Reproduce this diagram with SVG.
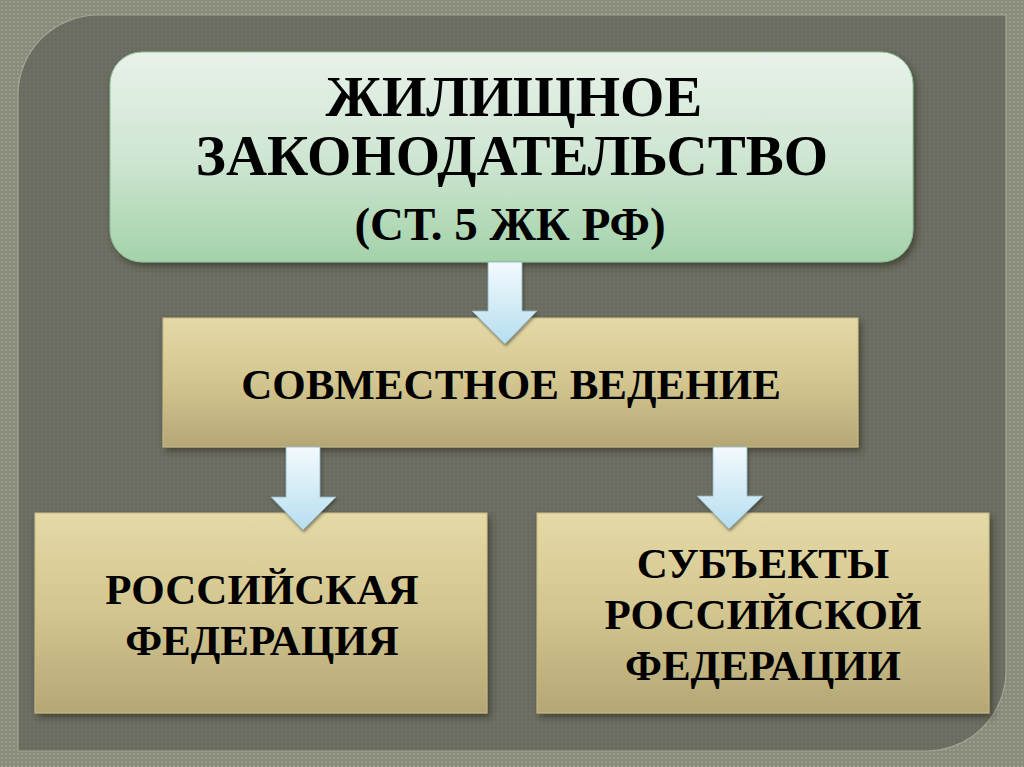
<svg xmlns="http://www.w3.org/2000/svg" width="1024" height="767" viewBox="0 0 1024 767">
  <defs>
    <style>
      .t { font-family: "Liberation Serif", "Times New Roman", serif; font-weight: bold; fill: #000; text-anchor: middle; }
      .arrow { fill: url(#arrowGrad); stroke: #8fb0bd; stroke-width: 0.8; }
    </style>
    <pattern id="dots" width="4" height="4" patternUnits="userSpaceOnUse">
      <rect width="4" height="4" fill="#898b7b"/>
      <rect x="1" y="1" width="2" height="2" fill="#9a9c8c"/>
    </pattern>
    <pattern id="dotsDark" width="4" height="4" patternUnits="userSpaceOnUse">
      <rect width="4" height="4" fill="#6b6c60"/>
      <rect x="1" y="1" width="2" height="2" fill="#727367"/>
    </pattern>
    <linearGradient id="greenGrad" x1="0" y1="0" x2="0" y2="1">
      <stop offset="0" stop-color="#e8f1ea"/>
      <stop offset="0.5" stop-color="#cfe6d2"/>
      <stop offset="1" stop-color="#a3d2a9"/>
    </linearGradient>
    <linearGradient id="tanGrad" x1="0" y1="0" x2="0" y2="1">
      <stop offset="0" stop-color="#e5d9a6"/>
      <stop offset="0.5" stop-color="#d2c58f"/>
      <stop offset="1" stop-color="#b4a775"/>
    </linearGradient>
    <linearGradient id="arrowGrad" x1="0" y1="0" x2="0" y2="1">
      <stop offset="0" stop-color="#f3fafd"/>
      <stop offset="1" stop-color="#b6def0"/>
    </linearGradient>
    <filter id="shadow" x="-10%" y="-10%" width="120%" height="130%">
      <feDropShadow dx="3" dy="4" stdDeviation="3" flood-color="#2a2a22" flood-opacity="0.6"/>
    </filter>
    <filter id="ashadow" x="-30%" y="-20%" width="160%" height="140%">
      <feDropShadow dx="1" dy="2" stdDeviation="1.5" flood-color="#222" flood-opacity="0.5"/>
    </filter>
  </defs>

  <!-- background -->
  <rect width="1024" height="767" fill="url(#dots)"/>
  <path d="M98,15 H1006 V671 A80,80 0 0 1 926,751 H18 V95 A80,80 0 0 1 98,15 Z" fill="url(#dotsDark)" stroke="#a3a595" stroke-width="1.2"/>

  <!-- nodes -->
  <g id="node-top">
    <rect x="110" y="52" width="803" height="210" rx="32" ry="32" fill="url(#greenGrad)" stroke="#8fbf96" stroke-width="1" filter="url(#shadow)"/>
    <text class="t" x="514" y="116" font-size="57">ЖИЛИЩНОЕ</text>
    <text class="t" x="512" y="175" font-size="57">ЗАКОНОДАТЕЛЬСТВО</text>
    <text class="t" x="510" y="240" font-size="47">(СТ. 5 ЖК РФ)</text>
  </g>

  <g id="node-joint">
    <rect x="163" y="318" width="695" height="129" fill="url(#tanGrad)" stroke="#c9bc86" stroke-width="1" filter="url(#shadow)"/>
    <text class="t" x="511" y="399" font-size="43">СОВМЕСТНОЕ ВЕДЕНИЕ</text>
  </g>

  <g id="node-rf">
    <rect x="35" y="513" width="452" height="200" fill="url(#tanGrad)" stroke="#c9bc86" stroke-width="1" filter="url(#shadow)"/>
    <text class="t" x="262" y="604" font-size="43">РОССИЙСКАЯ</text>
    <text class="t" x="262" y="655" font-size="43">ФЕДЕРАЦИЯ</text>
  </g>

  <g id="node-subjects">
    <rect x="537" y="513" width="452" height="200" fill="url(#tanGrad)" stroke="#c9bc86" stroke-width="1" filter="url(#shadow)"/>
    <text class="t" x="763" y="578" font-size="43">СУБЪЕКТЫ</text>
    <text class="t" x="763" y="629" font-size="43">РОССИЙСКОЙ</text>
    <text class="t" x="763" y="680" font-size="43">ФЕДЕРАЦИИ</text>
  </g>

  <!-- connectors -->
  <g id="connectors" filter="url(#ashadow)">
    <path class="arrow" d="M488,262 H522 V311 H537 L505,344 L472,311 H488 Z"/>
    <path class="arrow" d="M286,447 H320 V497 H336 L303,530 L271,497 H286 Z"/>
    <path class="arrow" d="M713,447 H747 V496 H763 L729,529 L697,496 H713 Z"/>
  </g>
</svg>
